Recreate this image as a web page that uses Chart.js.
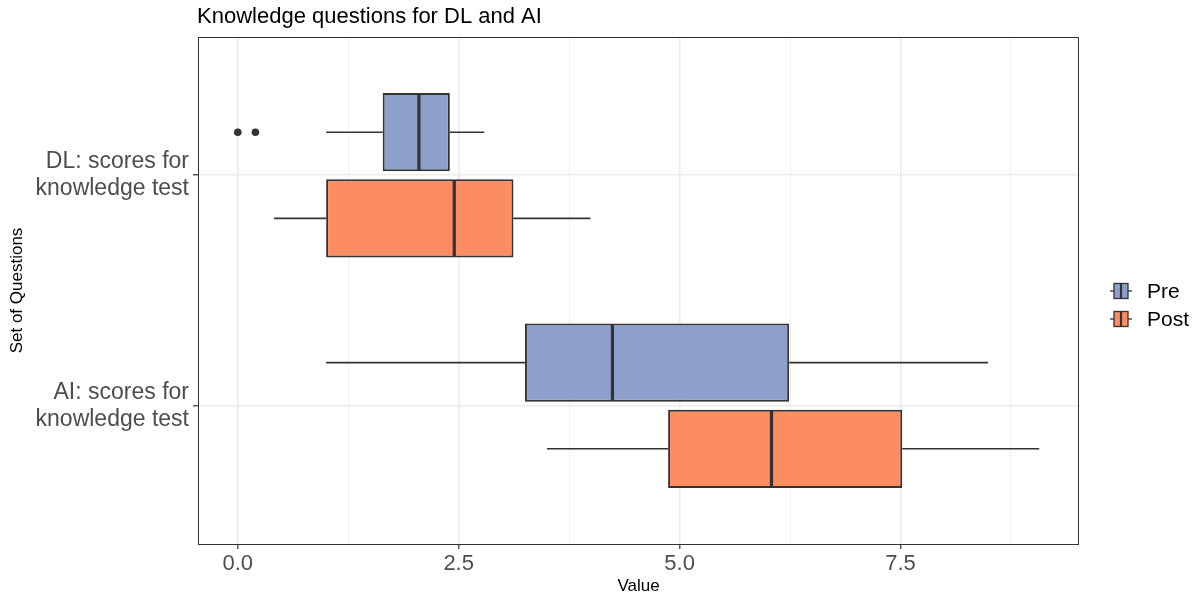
<!DOCTYPE html>
<html>
<head>
<meta charset="utf-8">
<title>Knowledge questions for DL and AI</title>
<script src="https://cdn.jsdelivr.net/npm/chart.js@4.4.0/dist/chart.umd.min.js"></script>
<style>
  html, body { margin: 0; padding: 0; background: #fff; }
  #wrap { width: 1204px; height: 595px; }
</style>
</head>
<body>
<div id="wrap"><canvas id="chart" width="1204" height="595"></canvas></div>
<script>
// values
const questionSets = [["DL: scores for", "knowledge test"], ["AI: scores for", "knowledge test"]];
const questionPos = [1, 0];          // DL on top, AI below
const groups = ["Pre", "Post"];
const groupColors = ["#8DA0CB", "#FC8D62"];

// box statistics, one entry per question set (DL, AI)
const preLow = [1.0, 1.0];
const preQ1 = [1.64, 3.25];
const preMedian = [2.05, 4.24];
const preQ3 = [2.40, 6.24];
const preHigh = [2.79, 8.49];
const preOutliers = [[0, 0.2], []];

const postLow = [0.41, 3.5];
const postQ1 = [1.0, 4.87];
const postMedian = [2.45, 6.04];
const postQ3 = [3.12, 7.52];
const postHigh = [3.99, 9.07];
const postOutliers = [[], []];

const xMajorTicks = [0, 2.5, 5, 7.5];

// =============================
// helpers
// =============================

const FONT = "'Liberation Sans', Arial, Helvetica, sans-serif";
const INK = "#333333";

Chart.defaults.font.family = FONT;

function boxData(q1, q3) {
    return q1.map((v, i) => ({ x: [v, q3[i]], y: questionPos[i] }));
}

// minor grid lines sit half way between the major ones
const xMinorTicks = xMajorTicks.map(v => v + 1.25);
const xAllTicks = xMajorTicks.concat(xMinorTicks).sort((a, b) => a - b);

function isMajor(ctx) {
    return ctx.tick && xMajorTicks.includes(ctx.tick.value);
}

const stats = [
    { low: preLow, median: preMedian, high: preHigh, outliers: preOutliers, q1: preQ1, q3: preQ3 },
    { low: postLow, median: postMedian, high: postHigh, outliers: postOutliers, q1: postQ1, q3: postQ3 }
];

// =============================
// whiskers, medians, outliers, frame, title, legend
// =============================

const boxplotPlugin = {
    id: "boxplotExtras",

    beforeDatasetsDraw(chart) {
        const ctx = chart.ctx;
        const xs = chart.scales.x;
        ctx.save();
        ctx.strokeStyle = INK;
        ctx.lineWidth = 1.6;
        stats.forEach((s, d) => {
            chart.getDatasetMeta(d).data.forEach((bar, i) => {
                const y = bar.y;
                ctx.beginPath();
                ctx.moveTo(xs.getPixelForValue(s.low[i]), y);
                ctx.lineTo(xs.getPixelForValue(s.q1[i]), y);
                ctx.moveTo(xs.getPixelForValue(s.q3[i]), y);
                ctx.lineTo(xs.getPixelForValue(s.high[i]), y);
                ctx.stroke();
            });
        });
        ctx.restore();
    },

    afterDatasetsDraw(chart) {
        const ctx = chart.ctx;
        const xs = chart.scales.x;
        ctx.save();
        stats.forEach((s, d) => {
            chart.getDatasetMeta(d).data.forEach((bar, i) => {
                const y = bar.y;
                const h = bar.height;
                const mx = xs.getPixelForValue(s.median[i]);
                ctx.strokeStyle = INK;
                ctx.lineWidth = 3.2;
                ctx.beginPath();
                ctx.moveTo(mx, y - h / 2 + 1);
                ctx.lineTo(mx, y + h / 2 - 1);
                ctx.stroke();

                ctx.fillStyle = INK;
                s.outliers[i].forEach(v => {
                    ctx.beginPath();
                    ctx.arc(xs.getPixelForValue(v), y, 3.8, 0, Math.PI * 2);
                    ctx.fill();
                });
            });
        });
        ctx.restore();
    },

    afterDraw(chart) {
        const ctx = chart.ctx;
        const area = chart.chartArea;
        ctx.save();

        // panel frame
        ctx.strokeStyle = INK;
        ctx.lineWidth = 1;
        ctx.strokeRect(Math.round(area.left) + 0.5, Math.round(area.top) + 0.5,
            Math.round(area.right - area.left) - 1, Math.round(area.bottom - area.top));

        // title
        ctx.fillStyle = "#000";
        ctx.font = "22px " + FONT;
        ctx.textAlign = "left";
        ctx.textBaseline = "middle";
        ctx.fillText("Knowledge questions for DL and AI", area.left - 1, 17);

        // legend
        const lx = area.right + 31;
        groups.forEach((g, k) => {
            const cy = 291 + k * 28;
            ctx.strokeStyle = INK;
            ctx.lineWidth = 1.3;
            ctx.beginPath();
            ctx.moveTo(lx, cy);
            ctx.lineTo(lx + 22, cy);
            ctx.stroke();

            ctx.fillStyle = groupColors[k];
            ctx.fillRect(lx + 4, cy - 7.5, 14, 15);
            ctx.strokeRect(lx + 4, cy - 7.5, 14, 15);

            ctx.lineWidth = 2.2;
            ctx.beginPath();
            ctx.moveTo(lx + 11, cy - 7.5);
            ctx.lineTo(lx + 11, cy + 7.5);
            ctx.stroke();

            ctx.fillStyle = "#000";
            ctx.font = "21px " + FONT;
            ctx.fillText(g, lx + 37, cy + 1);
        });

        ctx.restore();
    }
};

// =============================
// chart
// =============================

new Chart(document.getElementById("chart"), {

    type: "bar",

    data: {
        datasets: groups.map((g, k) => ({
            label: g,
            data: boxData(stats[k].q1, stats[k].q3),
            backgroundColor: groupColors[k],
            borderColor: INK,
            borderWidth: 2,
            borderSkipped: false,
            categoryPercentage: 0.748,
            barPercentage: 0.907
        }))
    },

    options: {
        indexAxis: "y",
        responsive: false,
        animation: false,
        layout: {
            padding: { left: 0, right: 125, top: 37, bottom: 0 }
        },
        plugins: {
            legend: { display: false },
            tooltip: { enabled: false },
            title: { display: false }
        },
        scales: {
            x: {
                type: "linear",
                min: -0.45,
                max: 9.52,
                afterBuildTicks: (s) => { s.ticks = xAllTicks.map(v => ({ value: v })); },
                afterFit: (s) => { s.height = 51; },
                ticks: {
                    autoSkip: false,
                    maxRotation: 0,
                    padding: 2,
                    color: "#4D4D4D",
                    font: { size: 22 },
                    callback: (v) => xMajorTicks.includes(v) ? v.toFixed(1) : ""
                },
                grid: {
                    color: "#EBEBEB",
                    lineWidth: (c) => isMajor(c) ? 1.6 : 0.8,
                    tickLength: 5,
                    tickWidth: 1.2,
                    tickColor: (c) => isMajor(c) ? INK : "rgba(0,0,0,0)"
                },
                border: { display: false },
                title: {
                    display: true,
                    text: "Value",
                    color: "#000",
                    font: { size: 17 },
                    padding: { top: 0, bottom: -2 }
                }
            },
            y: {
                type: "linear",
                min: -0.6,
                max: 1.6,
                offset: false,
                afterBuildTicks: (s) => { s.ticks = questionPos.map(v => ({ value: v })); },
                afterFit: (s) => { s.width = 198; },
                ticks: {
                    autoSkip: false,
                    padding: 4,
                    color: "#4D4D4D",
                    font: { size: 23, lineHeight: 1.17 },
                    callback: (v) => questionSets[questionPos.indexOf(v)]
                },
                grid: {
                    offset: false,
                    color: "#EBEBEB",
                    lineWidth: 1.6,
                    tickLength: 5,
                    tickWidth: 1.2,
                    tickColor: INK
                },
                border: { display: false },
                title: {
                    display: true,
                    text: "Set of Questions",
                    color: "#000",
                    font: { size: 17 },
                    padding: { top: 7, bottom: 0 }
                }
            }
        }
    },

    plugins: [boxplotPlugin]

});
</script>
</body>
</html>
